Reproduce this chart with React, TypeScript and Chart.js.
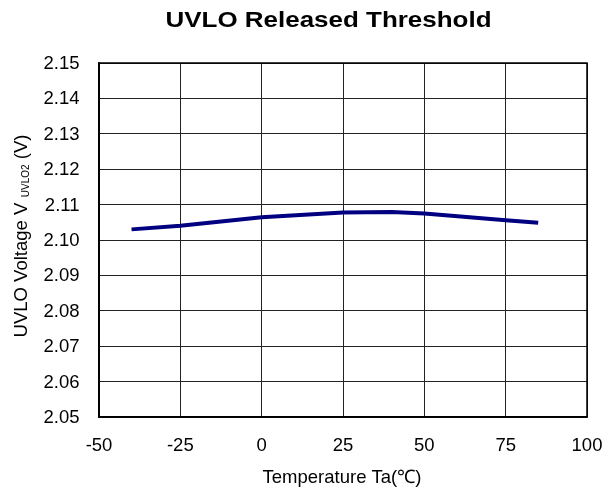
import React, { useEffect, useRef } from "react";
import { Chart, registerables } from "chart.js";

Chart.register(...registerables);

const temperatures = [-40, -25, 0, 25, 40, 50, 75, 85];
const voltages = [2.103, 2.104, 2.1064, 2.1078, 2.1079, 2.1075, 2.1056, 2.1049];
const xMin = -50;
const xMax = 100;
const xStep = 25;
const yMin = 2.05;
const yMax = 2.15;
const yStep = 0.01;
const chartTitle = "UVLO Released Threshold";
const xTitle = "Temperature Ta(℃)";
const yTitleMain = "UVLO Voltage V";
const yTitleSub = "UVLO2";
const yTitleUnit = "(V)";

const FONT = '"Liberation Sans", Arial, Helvetica, sans-serif';

export default function App() {
  const ref = useRef<HTMLCanvasElement | null>(null);

  useEffect(() => {
    document.body.style.margin = "0";
    const canvas = ref.current;
    if (!canvas) return;

    const textPlugin = {
      id: "customText",
      beforeDatasetsDraw(chart: any) {
        const ctx = chart.ctx as CanvasRenderingContext2D;
        const a = chart.chartArea;
        ctx.save();
        ctx.strokeStyle = "#000";
        ctx.lineWidth = 1.5;
        ctx.strokeRect(a.left, a.top, a.right - a.left, a.bottom - a.top);
        ctx.restore();
      },
      afterDraw(chart: any) {
        const ctx = chart.ctx as CanvasRenderingContext2D;
        const area = chart.chartArea;
        const xs = chart.scales.x;
        const ys = chart.scales.y;
        ctx.save();
        ctx.fillStyle = "#000";

        // tick labels
        ctx.font = `18.5px ${FONT}`;
        ctx.textAlign = "right";
        ctx.textBaseline = "middle";
        ys.ticks.forEach((t: any) => {
          ctx.fillText(Number(t.value).toFixed(2), 79.5, ys.getPixelForValue(t.value) + 1);
        });
        ctx.textAlign = "center";
        xs.ticks.forEach((t: any) => {
          ctx.fillText(String(t.value), xs.getPixelForValue(t.value), 446);
        });

        // x title
        ctx.font = `18.5px ${FONT}`;
        ctx.fillText(xTitle, 342, 478);

        // main title (slightly wide face)
        ctx.save();
        ctx.font = `bold 22px ${FONT}`;
        ctx.translate(328.5, 21);
        ctx.scale(1.18, 1);
        ctx.fillText(chartTitle, 0, 0);
        ctx.restore();

        // y title (rotated, with subscript)
        const cy = (area.top + area.bottom) / 2 - 4;
        ctx.translate(22, cy);
        ctx.rotate(-Math.PI / 2);
        ctx.textAlign = "left";
        ctx.textBaseline = "middle";
        const mainFont = `18.5px ${FONT}`;
        const subFont = `10px ${FONT}`;
        ctx.font = mainFont;
        const w1 = ctx.measureText(yTitleMain).width;
        const w3 = ctx.measureText(" " + yTitleUnit).width;
        ctx.font = subFont;
        const w2 = ctx.measureText("  " + yTitleSub).width;
        const total = w1 + w2 + w3;
        let x = -total / 2;
        ctx.font = mainFont;
        ctx.fillText(yTitleMain, x, 0);
        x += w1;
        ctx.font = subFont;
        ctx.fillText("  " + yTitleSub, x, 4);
        x += w2;
        ctx.font = mainFont;
        ctx.fillText(" " + yTitleUnit, x, 0);
        ctx.restore();
      },
    };

    const chart = new Chart(canvas, {
      type: "line",
      data: {
        datasets: [
          {
            data: temperatures.map((t, i) => ({ x: t, y: voltages[i] })),
            borderColor: "#000080",
            backgroundColor: "#000080",
            borderWidth: 4,
            pointRadius: 0,
            tension: 0,
            fill: false,
          },
        ],
      },
      options: {
        responsive: false,
        animation: false,
        devicePixelRatio: 1,
        layout: { padding: { top: 63, right: 27, left: 0, bottom: 0 } },
        plugins: {
          legend: { display: false },
          title: { display: false },
          tooltip: { enabled: false },
        },
        scales: {
          x: {
            type: "linear",
            min: xMin,
            max: xMax,
            ticks: { stepSize: xStep, display: false },
            grid: { color: "#222", lineWidth: 1, drawTicks: false },
            border: { display: true, color: "#000", width: 1.5 },
            afterFit(scale: any) {
              scale.height = 76;
            },
          },
          y: {
            type: "linear",
            min: yMin,
            max: yMax,
            ticks: { stepSize: yStep, display: false },
            grid: { color: "#222", lineWidth: 1, drawTicks: false },
            border: { display: true, color: "#000", width: 1.5 },
            afterFit(scale: any) {
              scale.width = 99;
            },
          },
        },
      },
      plugins: [textPlugin],
    } as any);

    return () => chart.destroy();
  }, []);

  return (
    <div style={{ width: 614, height: 493, background: "#fff" }}>
      <canvas ref={ref} width={614} height={493} style={{ display: "block" }} />
    </div>
  );
}
